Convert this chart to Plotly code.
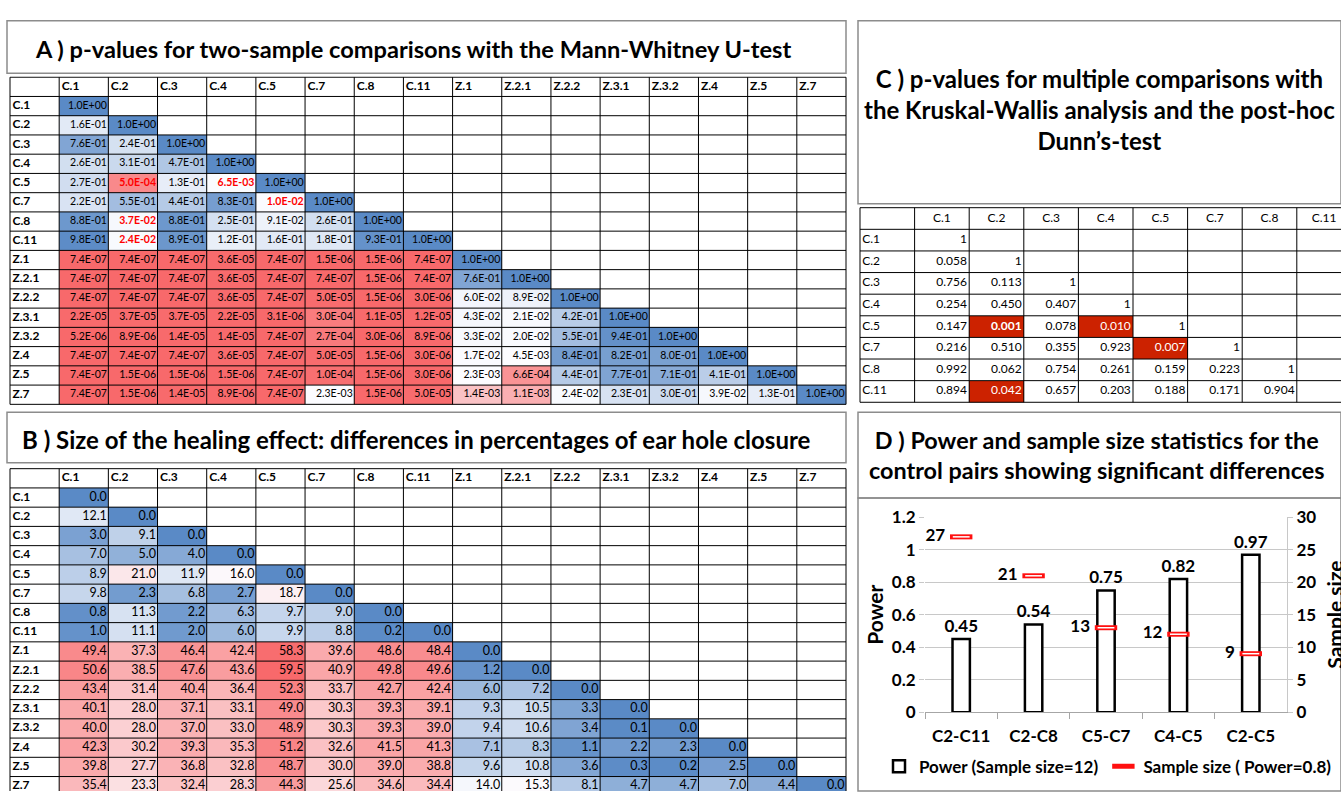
import plotly.graph_objects as go
import numpy as np

W, H = 1341, 801

# ---------------- data ----------------
groups = ["C.1", "C.2", "C.3", "C.4", "C.5", "C.7", "C.8", "C.11",
          "Z.1", "Z.2.1", "Z.2.2", "Z.3.1", "Z.3.2", "Z.4", "Z.5", "Z.7"]

# A) Mann-Whitney p-values (lower triangle, row by row)
mw_pvalues = [
    [1.0],
    [1.6e-1, 1.0],
    [7.6e-1, 2.4e-1, 1.0],
    [2.6e-1, 3.1e-1, 4.7e-1, 1.0],
    [2.7e-1, 5.0e-4, 1.3e-1, 6.5e-3, 1.0],
    [2.2e-1, 5.5e-1, 4.4e-1, 8.3e-1, 1.0e-2, 1.0],
    [8.8e-1, 3.7e-2, 8.8e-1, 2.5e-1, 9.1e-2, 2.6e-1, 1.0],
    [9.8e-1, 2.4e-2, 8.9e-1, 1.2e-1, 1.6e-1, 1.8e-1, 9.3e-1, 1.0],
    [7.4e-7, 7.4e-7, 7.4e-7, 3.6e-5, 7.4e-7, 1.5e-6, 1.5e-6, 7.4e-7, 1.0],
    [7.4e-7, 7.4e-7, 7.4e-7, 3.6e-5, 7.4e-7, 7.4e-7, 1.5e-6, 7.4e-7, 7.6e-1, 1.0],
    [7.4e-7, 7.4e-7, 7.4e-7, 3.6e-5, 7.4e-7, 5.0e-5, 1.5e-6, 3.0e-6, 6.0e-2, 8.9e-2, 1.0],
    [2.2e-5, 3.7e-5, 3.7e-5, 2.2e-5, 3.1e-6, 3.0e-4, 1.1e-5, 1.2e-5, 4.3e-2, 2.1e-2, 4.2e-1, 1.0],
    [5.2e-6, 8.9e-6, 1.4e-5, 1.4e-5, 7.4e-7, 2.7e-4, 3.0e-6, 8.9e-6, 3.3e-2, 2.0e-2, 5.5e-1, 9.4e-1, 1.0],
    [7.4e-7, 7.4e-7, 7.4e-7, 3.6e-5, 7.4e-7, 5.0e-5, 1.5e-6, 3.0e-6, 1.7e-2, 4.5e-3, 8.4e-1, 8.2e-1, 8.0e-1, 1.0],
    [7.4e-7, 1.5e-6, 1.5e-6, 1.5e-6, 7.4e-7, 1.0e-4, 1.5e-6, 3.0e-6, 2.3e-3, 6.6e-4, 4.4e-1, 7.7e-1, 7.1e-1, 4.1e-1, 1.0],
    [7.4e-7, 1.5e-6, 1.4e-5, 8.9e-6, 7.4e-7, 2.3e-3, 1.5e-6, 5.0e-5, 1.4e-3, 1.1e-3, 2.4e-2, 2.3e-1, 3.0e-1, 3.9e-2, 1.3e-1, 1.0],
]

# B) Differences in percentage of ear hole closure (lower triangle)
effect_size = [
    [0.0],
    [12.1, 0.0],
    [3.0, 9.1, 0.0],
    [7.0, 5.0, 4.0, 0.0],
    [8.9, 21.0, 11.9, 16.0, 0.0],
    [9.8, 2.3, 6.8, 2.7, 18.7, 0.0],
    [0.8, 11.3, 2.2, 6.3, 9.7, 9.0, 0.0],
    [1.0, 11.1, 2.0, 6.0, 9.9, 8.8, 0.2, 0.0],
    [49.4, 37.3, 46.4, 42.4, 58.3, 39.6, 48.6, 48.4, 0.0],
    [50.6, 38.5, 47.6, 43.6, 59.5, 40.9, 49.8, 49.6, 1.2, 0.0],
    [43.4, 31.4, 40.4, 36.4, 52.3, 33.7, 42.7, 42.4, 6.0, 7.2, 0.0],
    [40.1, 28.0, 37.1, 33.1, 49.0, 30.3, 39.3, 39.1, 9.3, 10.5, 3.3, 0.0],
    [40.0, 28.0, 37.0, 33.0, 48.9, 30.3, 39.3, 39.0, 9.4, 10.6, 3.4, 0.1, 0.0],
    [42.3, 30.2, 39.3, 35.3, 51.2, 32.6, 41.5, 41.3, 7.1, 8.3, 1.1, 2.2, 2.3, 0.0],
    [39.8, 27.7, 36.8, 32.8, 48.7, 30.0, 39.0, 38.8, 9.6, 10.8, 3.6, 0.3, 0.2, 2.5, 0.0],
    [35.4, 23.3, 32.4, 28.3, 44.3, 25.6, 34.6, 34.4, 14.0, 15.3, 8.1, 4.7, 4.7, 7.0, 4.4, 0.0],
]

# C) Kruskal-Wallis / Dunn p-values (lower triangle)
kw_groups = ["C.1", "C.2", "C.3", "C.4", "C.5", "C.7", "C.8", "C.11"]
dunn_pvalues = [
    [1],
    [0.058, 1],
    [0.756, 0.113, 1],
    [0.254, 0.450, 0.407, 1],
    [0.147, 0.001, 0.078, 0.010, 1],
    [0.216, 0.510, 0.355, 0.923, 0.007, 1],
    [0.992, 0.062, 0.754, 0.261, 0.159, 0.223, 1],
    [0.894, 0.042, 0.657, 0.203, 0.188, 0.171, 0.904, 1],
]

# D) Power and sample size
pairs = ["C2-C11", "C2-C8", "C5-C7", "C4-C5", "C2-C5"]
power = [0.45, 0.54, 0.75, 0.82, 0.97]
sample_size = [27, 21, 13, 12, 9]

# ---------------- styling helpers ----------------
FONT = "Lato, Roboto, sans-serif"
RED = "rgb(248,105,107)"
WHITE = "rgb(252,252,255)"
BLUE = "rgb(90,138,198)"
SIG_FILL = "#CC2200"


def px_x(p):
    return p / W


def px_y(p):
    return 1 - p / H


fig = go.Figure()
layout_axes = {}


def table_axes(k, x0, cw, ncol, y0, rh, nrow):
    """Hidden axes so that each table cell is one data unit."""
    x1 = min(x0 + ncol * cw + 1, W)
    y1 = min(y0 + nrow * rh + 1, H)
    layout_axes["xaxis%d" % k] = dict(
        domain=[px_x(x0 - 1), px_x(x1)], range=[-0.5 - 1 / cw, -0.5 + (x1 - x0) / cw],
        visible=False, fixedrange=True, anchor="y%d" % k)
    layout_axes["yaxis%d" % k] = dict(
        domain=[px_y(y1), px_y(y0 - 1)], range=[-0.5 + (y1 - y0) / rh, -0.5 - 1 / rh],
        visible=False, fixedrange=True, anchor="x%d" % k)


def grid_trace(k, ncol, nrow):
    gx, gy = [], []
    for b in np.arange(-0.5, ncol, 1.0):
        gx += [b, b, None]
        gy += [-0.5, nrow - 0.5, None]
    for b in np.arange(-0.5, nrow, 1.0):
        gx += [-0.5, ncol - 0.5, None]
        gy += [b, b, None]
    return go.Scatter(x=gx, y=gy, mode="lines", line=dict(color="black", width=1),
                      hoverinfo="skip", showlegend=False,
                      xaxis="x%d" % k, yaxis="y%d" % k)


def scaled_position(v, vmin, vmid, vmax):
    # Excel-style 3-colour scale: min -> 0, 50th percentile -> 0.5, max -> 1
    if v <= vmid:
        return 0.5 * (v - vmin) / (vmid - vmin)
    return 0.5 + 0.5 * (v - vmid) / (vmax - vmid)


def matrix_panel(k, labels, rows, fmt, colorscale, x0, cw, y0, rh,
                 val_size, lab_size, special=None):
    n = len(labels)
    table_axes(k, x0, cw, n + 1, y0, rh, n + 1)
    flat = [v for r in rows for v in r]
    vmin, vmid, vmax = min(flat), float(np.percentile(flat, 50)), max(flat)
    z = [[None] * n for _ in range(n)]
    tx, ty, tt, tc = [], [], [], []
    for i, r in enumerate(rows):
        for j, v in enumerate(r):
            z[i][j] = scaled_position(v, vmin, vmid, vmax)
            s = fmt(v)
            if special and special(labels[i], labels[j], v):
                s = "<b>%s</b>" % s
                tc.append("#FF0000")
            else:
                tc.append("black")
            tx.append(j + 1.47)
            ty.append(i + 1)
            tt.append(s)
    fig.add_trace(go.Heatmap(z=z, x=list(range(1, n + 1)), y=list(range(1, n + 1)),
                             colorscale=colorscale, zmin=0, zmax=1, showscale=False,
                             hoverinfo="skip", xaxis="x%d" % k, yaxis="y%d" % k))
    fig.add_trace(grid_trace(k, n + 1, n + 1))
    fig.add_trace(go.Scatter(x=tx, y=ty, text=tt, mode="text", textposition="middle left",
                             textfont=dict(family=FONT, size=val_size, color=tc),
                             hoverinfo="skip", showlegend=False,
                             xaxis="x%d" % k, yaxis="y%d" % k))
    hx = [j + 1 - 0.45 for j in range(n)] + [-0.45] * n
    hy = [0] * n + [i + 1 for i in range(n)]
    ht = ["<b>%s</b>" % l for l in labels] * 2
    fig.add_trace(go.Scatter(x=hx, y=hy, text=ht, mode="text", textposition="middle right",
                             textfont=dict(family=FONT, size=lab_size, color="black"),
                             hoverinfo="skip", showlegend=False,
                             xaxis="x%d" % k, yaxis="y%d" % k))


# ---------- Panel A ----------
matrix_panel(3, groups, mw_pvalues, lambda v: f"{v:.1E}",
             [[0, RED], [0.5, WHITE], [1, BLUE]], 10, 836 / 17, 68, 19.76, 10.5, 12,
             special=lambda r, c, v: r.startswith("C") and c.startswith("C") and v < 0.05)

# ---------- Panel B ----------
matrix_panel(4, groups, effect_size, lambda v: f"{v:.1f}",
             [[0, BLUE], [0.5, WHITE], [1, RED]], 10, 836 / 17, 470, 19.76, 12.5, 12)

# ---------- Panel C ----------
nk = len(kw_groups)
table_axes(5, 860, 54.6, nk + 1, 202, 22.2, nk + 1)
zc = [[None] * nk for _ in range(nk)]
cx, cy, ct, cc = [], [], [], []
for i, r in enumerate(dunn_pvalues):
    for j, v in enumerate(r):
        s = "1" if v == 1 else f"{v:.3f}"
        if v < 0.05:
            zc[i][j] = 1
            cc.append("white")
            if v <= 0.001:
                s = "<b>%s</b>" % s
        else:
            cc.append("black")
        cx.append(j + 1.46)
        cy.append(i + 1)
        ct.append(s)
fig.add_trace(go.Heatmap(z=zc, x=list(range(1, nk + 1)), y=list(range(1, nk + 1)),
                         colorscale=[[0, SIG_FILL], [1, SIG_FILL]], zmin=0, zmax=1,
                         showscale=False, hoverinfo="skip", xaxis="x5", yaxis="y5"))
fig.add_trace(grid_trace(5, nk + 1, nk + 1))
fig.add_trace(go.Scatter(x=cx, y=cy, text=ct, mode="text", textposition="middle left",
                         textfont=dict(family=FONT, size=12, color=cc),
                         hoverinfo="skip", showlegend=False, xaxis="x5", yaxis="y5"))
fig.add_trace(go.Scatter(x=list(range(1, nk + 1)), y=[0] * nk, text=kw_groups, mode="text",
                         textposition="middle center",
                         textfont=dict(family=FONT, size=12, color="black"),
                         hoverinfo="skip", showlegend=False, xaxis="x5", yaxis="y5"))
fig.add_trace(go.Scatter(x=[-0.46] * nk, y=list(range(1, nk + 1)), text=kw_groups, mode="text",
                         textposition="middle right",
                         textfont=dict(family=FONT, size=12, color="black"),
                         hoverinfo="skip", showlegend=False, xaxis="x5", yaxis="y5"))

# ---------- Panel D ----------
fig.add_trace(go.Bar(
    x=pairs, y=power, width=0.24, name="Power (Sample size=12)",
    marker=dict(color="white", line=dict(color="black", width=2.5)),
    text=[f"{v:.2f}" for v in power], textposition="outside", cliponaxis=False,
    constraintext="none",
    textfont=dict(family=FONT, size=17, color="black", weight="bold"),
    xaxis="x", yaxis="y",
))
fig.add_trace(go.Scatter(
    x=pairs, y=sample_size, mode="markers", name="Sample size ( Power=0.8)",
    marker=dict(symbol="line-ew", size=16, line=dict(color="#FF1010", width=5)),
    xaxis="x", yaxis="y2", cliponaxis=False,
))
fig.add_trace(go.Scatter(
    x=pairs, y=sample_size, mode="markers", showlegend=False, hoverinfo="skip",
    marker=dict(symbol="line-ew", size=12, line=dict(color="white", width=1.5)),
    xaxis="x", yaxis="y2", cliponaxis=False,
))
fig.add_trace(go.Scatter(
    x=pairs, y=sample_size, mode="markers+text", showlegend=False, hoverinfo="skip",
    marker=dict(symbol="line-ew", size=24, line=dict(color="rgba(0,0,0,0)", width=0)),
    text=[str(v) for v in sample_size], textposition="middle left",
    textfont=dict(family=FONT, size=17, color="black", weight="bold"),
    xaxis="x", yaxis="y2", cliponaxis=False,
))

axis_font = dict(family=FONT, size=17, color="black", weight="bold")
fig.update_layout(
    width=W, height=H, margin=dict(l=0, r=0, t=0, b=0), autosize=False,
    paper_bgcolor="white", plot_bgcolor="white",
    font=dict(family=FONT, color="black"),
    xaxis=dict(domain=[px_x(925), px_x(1287)], anchor="y", tickfont=axis_font,
               showline=True, linecolor="#A6A6A6", linewidth=1, fixedrange=True,
               ticks="outside", tickson="boundaries", ticklen=6, tickcolor="#A6A6A6",
               ticklabelstandoff=8),
    yaxis=dict(domain=[px_y(720), px_y(520)], anchor="x", range=[0, 1.2], dtick=0.2,
               tickfont=axis_font, showgrid=True, gridcolor="#C8C8C8", zeroline=False,
               ticks="outside", ticklen=5, tickcolor="#C8C8C8", fixedrange=True),
    yaxis2=dict(overlaying="y", side="right", anchor="x", range=[0, 30], dtick=5,
                tickfont=axis_font, showgrid=False, zeroline=False, fixedrange=True,
                showline=True, linecolor="#C8C8C8",
                ticks="outside", ticklen=5, tickcolor="#C8C8C8"),
    legend=dict(orientation="h", x=px_x(1108), xanchor="center", y=px_y(776), yanchor="middle",
                font=dict(family=FONT, size=17, color="black", weight="bold"),
                bgcolor="rgba(0,0,0,0)", itemwidth=30, tracegroupgap=0),
    showlegend=True,
    **layout_axes,
)

# panel frames
frame = dict(color="#8C8C8C", width=1.5)
for (x0, y0, x1, y1) in [(7, 10, 846, 64), (7, 412, 846, 464),
                         (858, 10, 1341, 198), (858, 412, 1341, 500), (858, 500, 1341, 801)]:
    fig.add_shape(type="rect", xref="paper", yref="paper",
                  x0=px_x(x0), x1=px_x(x1), y0=px_y(y1), y1=px_y(y0), line=frame, layer="below")


def tfont(s):
    return dict(family=FONT, size=s, color="black", weight="bold")


fig.add_annotation(text="A ) p-values for two-sample comparisons with the Mann-Whitney U-test",
                   x=px_x(33), y=px_y(39), xref="paper", yref="paper", xanchor="left",
                   yanchor="middle", showarrow=False, font=tfont(23.6))
fig.add_annotation(text="B ) Size of the healing effect: differences in percentages of ear hole closure",
                   x=px_x(20), y=px_y(440), xref="paper", yref="paper", xanchor="left",
                   yanchor="middle", showarrow=False, font=tfont(24))
fig.add_annotation(text="C ) p-values for multiple comparisons with<br>the Kruskal-Wallis analysis and the post-hoc<br>Dunn\u2019s-test",
                   x=px_x(1099), y=px_y(101), xref="paper", yref="paper", xanchor="center",
                   yanchor="middle", showarrow=False, font=tfont(24), align="center")
fig.add_annotation(text="D ) Power and sample size statistics for the<br>control pairs showing significant differences",
                   x=px_x(1097), y=px_y(456), xref="paper", yref="paper", xanchor="center",
                   yanchor="middle", showarrow=False, font=tfont(23.4), align="center")
# axis titles of panel D
fig.add_annotation(text="Power", x=px_x(875), y=px_y(620), xref="paper", yref="paper",
                   textangle=-90, showarrow=False, xanchor="center", yanchor="middle",
                   font=tfont(21))
fig.add_annotation(text="Sample size", x=px_x(1335), y=px_y(620), xref="paper", yref="paper",
                   textangle=-90, showarrow=False, xanchor="center", yanchor="middle",
                   font=tfont(21))

post = ("var gd=document.getElementById('{plot_id}');"
        "document.documentElement.style.margin='0';document.documentElement.style.padding='0';"
        "document.documentElement.style.overflow='hidden';"
        "document.body.style.margin='0';document.body.style.padding='0';"
        "document.body.style.overflow='hidden';"
        "gd.style.position='fixed';gd.style.left='0px';gd.style.top='0px';")
fig.write_html("out.html", config={"displayModeBar": False}, post_script=post)
